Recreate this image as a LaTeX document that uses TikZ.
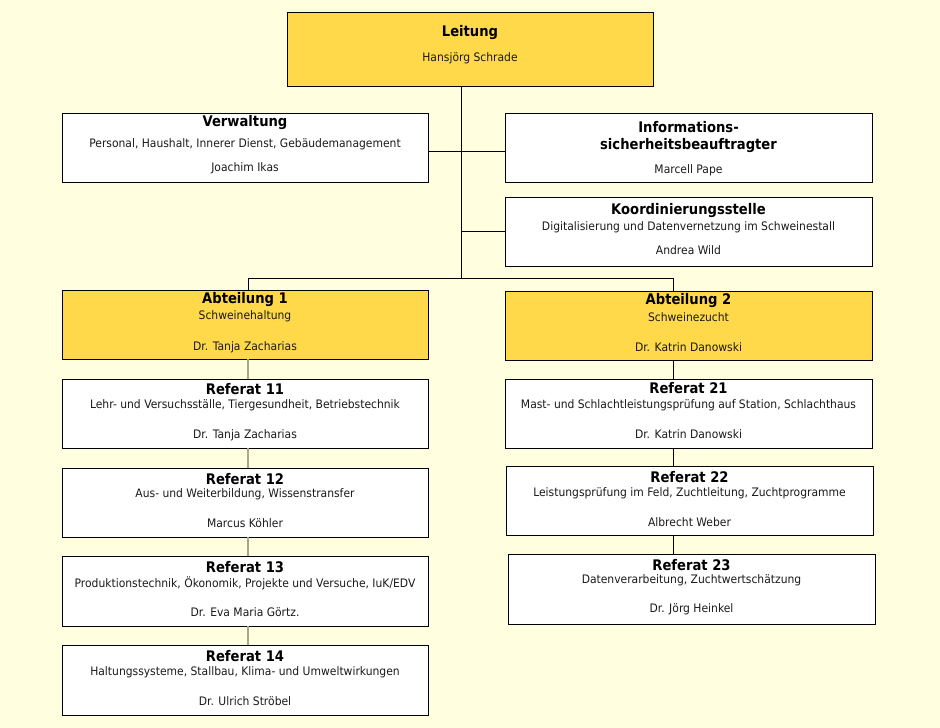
\documentclass[tikz,border=0pt]{standalone}
\usepackage{fontspec}
\setmainfont[FakeStretch=0.92]{DejaVu Sans}
\newfontfamily\titlefont[FakeStretch=0.9]{DejaVu Sans Bold}
\definecolor{bgyel}{HTML}{FFFFE0}
\definecolor{boxyel}{HTML}{FFD94A}
\definecolor{grayline}{HTML}{ABA58E}
\definecolor{txt}{HTML}{1A1A1A}
\tikzset{
  orgbox/.style={draw=black, line width=0.9pt, fill=white, rectangle, inner sep=0pt, outer sep=0pt},
  yelbox/.style={orgbox, fill=boxyel},
  ttl/.style={inner sep=0pt, font=\titlefont\fontsize{14.6}{17.5}\selectfont, text=black, align=center},
  bod/.style={inner sep=0pt, font=\fontsize{11.7}{13}\selectfont, text=txt},
  conn/.style={draw=black, line width=0.9pt},
  gconn/.style={draw=grayline, line width=1.2pt}
}
% box macro: name, x1, y1, x2, y2, style
\newcommand{\orgrect}[6]{%
  \pgfmathsetmacro{\bw}{#4-#2}\pgfmathsetmacro{\bh}{#5-#3}%
  \pgfmathsetmacro{\bx}{(#2+#4)/2}\pgfmathsetmacro{\by}{(#3+#5)/2}%
  \node[#6, minimum width=\bw pt, minimum height=\bh pt] (#1) at (\bx,\by) {};}
\begin{document}
\begin{tikzpicture}[x=1pt,y=-1pt]
\fill[bgyel] (0,0) rectangle (940,728);
\useasboundingbox (0,0) rectangle (940,728);

\coordinate (j) at (461,278);
\coordinate (j1) at (248,278);
\coordinate (j2) at (673,278);

% boxes
\orgrect{leit}{287}{12}{653}{86}{yelbox}
\orgrect{verw}{62}{113}{428}{182}{orgbox}
\orgrect{info}{505}{113}{872}{182}{orgbox}
\orgrect{koord}{505}{197}{872}{266}{orgbox}
\orgrect{abt1}{62}{290}{428}{359}{yelbox}
\orgrect{abt2}{505}{291}{872}{360}{yelbox}
\orgrect{r11}{62}{379}{428}{448}{orgbox}
\orgrect{r12}{62}{468}{428}{537}{orgbox}
\orgrect{r13}{62}{556}{428}{626}{orgbox}
\orgrect{r14}{62}{645}{428}{715}{orgbox}
\orgrect{r21}{505}{379}{872}{448}{orgbox}
\orgrect{r22}{506}{466}{873}{535}{orgbox}
\orgrect{r23}{508}{554}{875}{624}{orgbox}

% connectors
\draw[conn] (j |- leit.south) -- (j);
\draw[conn] ([yshift=-3.5pt]verw.east) -- ([yshift=-3.5pt]info.west);
\draw[conn] (koord.west) -- (koord.west -| j);
\draw[conn] (j1 |- abt1.north) -- (j1) -- (j2) -- (j2 |- abt2.north);
\draw[gconn] (j1 |- abt1.south) -- (j1 |- r11.north);
\draw[gconn] (j1 |- r11.south) -- (j1 |- r12.north);
\draw[gconn] (j1 |- r12.south) -- (j1 |- r13.north);
\draw[gconn] (j1 |- r13.south) -- (j1 |- r14.north);
\draw[conn] (j2 |- abt2.south) -- (j2 |- r21.north);
\draw[conn] (j2 |- r21.south) -- (j2 |- r22.north);
\draw[conn] (j2 |- r22.south) -- (j2 |- r23.north);

% texts
\node[ttl] (leit-t) at (470,33) {Leitung};
\node[bod] (leit-n) at (470,58) {Hansjörg Schrade};

\node[ttl] (verw-t) at (245,123) {Verwaltung};
\node[bod] (verw-d) at (245,144) {Personal, Haushalt, Innerer Dienst, Gebäudemanagement};
\node[bod] (verw-n) at (245,168) {Joachim Ikas};

\node[ttl] (info-t) at (688.5,137) {Informations-\\sicherheitsbeauftragter};
\node[bod] (info-n) at (688.5,170) {Marcell Pape};

\node[ttl] (koord-t) at (688.5,211) {Koordinierungsstelle};
\node[bod] (koord-d) at (688.5,227) {Digitalisierung und Datenvernetzung im Schweinestall};
\node[bod] (koord-n) at (688.5,250) {Andrea Wild};

\node[ttl] (abt1-t) at (245,300) {Abteilung 1};
\node[bod] (abt1-d) at (245,316) {Schweinehaltung};
\node[bod] (abt1-n) at (245,347) {Dr. Tanja Zacharias};

\node[ttl] (abt2-t) at (688.5,301) {Abteilung 2};
\node[bod] (abt2-d) at (688.5,317) {Schweinezucht};
\node[bod] (abt2-n) at (688.5,347) {Dr. Katrin Danowski};

\node[ttl] (r11-t) at (245,389) {Referat 11};
\node[bod] (r11-d) at (245,405) {Lehr- und Versuchsställe, Tiergesundheit, Betriebstechnik};
\node[bod] (r11-n) at (245,435) {Dr. Tanja Zacharias};

\node[ttl] (r12-t) at (245,479) {Referat 12};
\node[bod] (r12-d) at (245,494) {Aus- und Weiterbildung, Wissenstransfer};
\node[bod] (r12-n) at (245,523) {Marcus Köhler};

\node[ttl] (r13-t) at (245,567) {Referat 13};
\node[bod] (r13-d) at (245,583) {Produktionstechnik, Ökonomik, Projekte und Versuche, IuK/EDV};
\node[bod] (r13-n) at (245,612) {Dr. Eva Maria Görtz.};

\node[ttl] (r14-t) at (245,656) {Referat 14};
\node[bod] (r14-d) at (245,672) {Haltungssysteme, Stallbau, Klima- und Umweltwirkungen};
\node[bod] (r14-n) at (245,701) {Dr. Ulrich Ströbel};

\node[ttl] (r21-t) at (688.5,388) {Referat 21};
\node[bod] (r21-d) at (688.5,405) {Mast- und Schlachtleistungsprüfung auf Station, Schlachthaus};
\node[bod] (r21-n) at (688.5,434) {Dr. Katrin Danowski};

\node[ttl] (r22-t) at (689.5,477) {Referat 22};
\node[bod] (r22-d) at (689.5,493) {Leistungsprüfung im Feld, Zuchtleitung, Zuchtprogramme};
\node[bod] (r22-n) at (689.5,522) {Albrecht Weber};

\node[ttl] (r23-t) at (691.5,565) {Referat 23};
\node[bod] (r23-d) at (691.5,580) {Datenverarbeitung, Zuchtwertschätzung};
\node[bod] (r23-n) at (691.5,609) {Dr. Jörg Heinkel};
\end{tikzpicture}
\end{document}
